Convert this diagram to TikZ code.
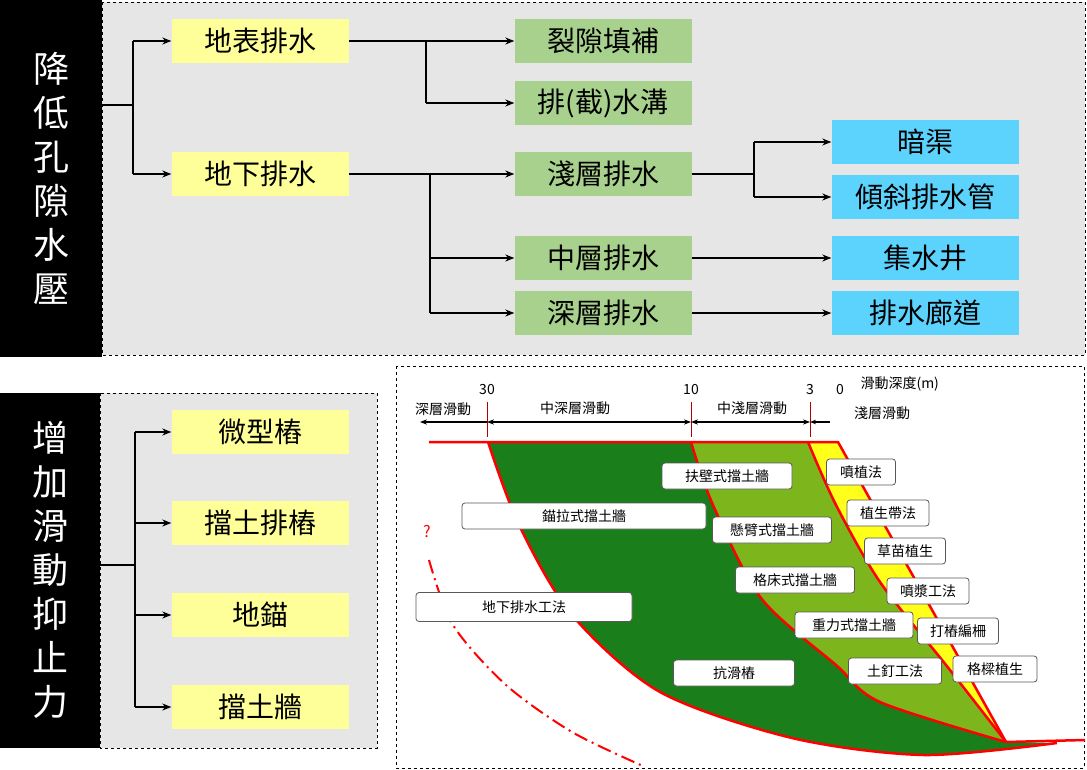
\documentclass[tikz,border=0pt]{standalone}
\usepackage{fontspec}
\setmainfont{Noto Sans CJK TC}
\usetikzlibrary{arrows.meta}
\definecolor{ybox}{HTML}{FFFF9A}
\definecolor{gbox}{HTML}{A9D18E}
\definecolor{bbox}{HTML}{5BD3FD}
\definecolor{panel}{HTML}{E6E6E6}
\definecolor{dg}{HTML}{1A7F1A}
\definecolor{lg}{HTML}{7DB51C}
\definecolor{yl}{HTML}{FFFF1A}
\begin{document}
\begin{tikzpicture}[x=1pt,y=-1pt,
  box/.style={minimum width=177pt,minimum height=44pt,inner sep=0pt,font=\fontsize{28}{32}\selectfont},
  yb/.style={box,fill=ybox},
  gb/.style={box,fill=gbox},
  bb/.style={box,fill=bbox,minimum width=187pt},
  conn/.style={black,line width=1.2pt},
  arr/.style={conn,-{Stealth[length=9pt,width=7pt]}},
  vt/.style={text=white,align=center,font=\fontsize{36}{44}\selectfont},
  lab/.style={draw=gray!70!black,fill=white,rounded corners=3pt,line width=0.8pt,inner sep=0pt,minimum height=26pt,font=\fontsize{14}{16}\selectfont},
  sc/.style={font=\fontsize{14}{16}\selectfont},
  red/.style={draw=red,line width=2.5pt},
  dim/.style={black,line width=1.5pt}]
\useasboundingbox (0,0) rectangle (1087,770);
% panels
\fill[black] (0,0) rectangle (102,357);
\draw[dashed,fill=panel,line width=0.8pt] (102,2) rectangle (1085,355);
\node[vt] (t1) at (51,178) {降\\低\\孔\\隙\\水\\壓};
\fill[black] (0,393) rectangle (100,748);
\draw[dashed,fill=panel,line width=0.8pt] (100,393) rectangle (377,748);
\node[vt] (t2) at (50,570) {增\\加\\滑\\動\\抑\\止\\力};
\draw[dashed,line width=1pt] (396,366) rectangle (1084,768);
% top nodes
\node[yb] (a1) at (260,41) {地表排水};
\node[yb] (a2) at (260,174) {地下排水};
\node[gb] (b1) at (603,41) {裂隙填補};
\node[gb] (b2) at (603,103) {排(截)水溝};
\node[gb] (b3) at (603,174) {淺層排水};
\node[gb] (b4) at (603,258) {中層排水};
\node[gb] (b5) at (603,313) {深層排水};
\node[bb] (c1) at (925,142) {暗渠};
\node[bb] (c2) at (925,197) {傾斜排水管};
\node[bb] (c3) at (925,258) {集水井};
\node[bb] (c4) at (925,313) {排水廊道};
\coordinate (r0) at (102,105);
\draw[conn] (r0) -- (133,105);
\draw[conn] (133,41) -- (133,174);
\draw[arr] (133,41) -- (a1.west);
\draw[arr] (133,174) -- (a2.west);
\draw[conn] (a1.east) -- (426,41);
\draw[conn] (426,41) -- (426,103);
\draw[arr] (426,41) -- (b1.west);
\draw[arr] (426,103) -- (b2.west);
\draw[conn] (a2.east) -- (430,174);
\draw[conn] (430,174) -- (430,313);
\draw[arr] (430,174) -- (b3.west);
\draw[arr] (430,258) -- (b4.west);
\draw[arr] (430,313) -- (b5.west);
\draw[conn] (b3.east) -- (754,174);
\draw[conn] (754,142) -- (754,197);
\draw[arr] (754,142) -- (c1.west);
\draw[arr] (754,197) -- (c2.west);
\draw[arr] (b4.east) -- (c3.west);
\draw[arr] (b5.east) -- (c4.west);
% bottom left
\node[yb] (d1) at (260,432) {微型樁};
\node[yb] (d2) at (260,523) {擋土排樁};
\node[yb] (d3) at (260,615) {地錨};
\node[yb] (d4) at (260,707) {擋土牆};
\coordinate (r1) at (100,565);
\draw[conn] (r1) -- (135,565);
\draw[conn] (135,432) -- (135,707);
\foreach \n/\y in {d1/432,d2/523,d3/615,d4/707} \draw[arr] (135,\y) -- (\n.west);
% slope figure
\fill[dg] plot[smooth] coordinates{(488,442)(519,525)(572,615)(660,692)(792,738)(924,755)(1057,743)} -- (1006,742) -- (838,442) -- cycle;
\fill[lg] plot[smooth] coordinates{(691,442)(713,505)(761,598)(836,665)(880,702)(1006,742)} -- (838,442) -- cycle;
\fill[yl] plot[smooth] coordinates{(808,442)(836,505)(880,582)(946,665)(1006,742)} -- (838,442) -- cycle;
\draw[red] plot[smooth] coordinates{(488,442)(519,525)(572,615)(660,692)(792,738)(924,755)(1057,743)};
\draw[red] plot[smooth] coordinates{(691,442)(713,505)(761,598)(836,665)(880,702)(1006,742)};
\draw[red] plot[smooth] coordinates{(808,442)(836,505)(880,582)(946,665)(1006,742)};
\draw[red,line join=round] (429,442) -- (838,442) -- (1006,742) -- (1085,740);
\draw[red,line width=2pt,dash pattern=on 14pt off 5pt on 2pt off 5pt] plot[smooth] coordinates{(429,560)(453,625)(506,685)(572,732)(643,766)};
\node[text=red,font=\fontsize{16}{18}\selectfont] (q) at (427,532) {?};
% scale
\foreach \x/\t/\nm in {487/30/s1,691/10/s2,810/3/s3,840/0/s4} \node[sc] (\nm) at (\x,390) {\t};
\node[sc,anchor=west] (s5) at (857,384) {滑動深度(m)};
\foreach \x/\nm in {487/k1,691/k2,810/k3} {\coordinate (\nm a) at (\x,402); \coordinate (\nm b) at (\x,437); \draw[red!70!black,line width=0.6pt] (\nm a) -- (\nm b);}
\coordinate (e0) at (420,422); \coordinate (e1) at (487,422); \coordinate (e2) at (691,422); \coordinate (e3) at (810,422); \coordinate (e4) at (830,422);
\draw[dim,-{Stealth[length=7pt]}] (e1) -- (e0);
\draw[dim,{Stealth[length=7pt]}-{Stealth[length=7pt]}] (e1) -- (e2);
\draw[dim,{Stealth[length=7pt]}-{Stealth[length=7pt]}] (e2) -- (e3);
\draw[dim,-{Stealth[length=6pt]}] (e4) -- (e3);
\node[sc] (m1) at (443,409) {深層滑動};
\node[sc] (m2) at (575,408) {中深層滑動};
\node[sc] (m3) at (752,408) {中淺層滑動};
\node[sc] (m4) at (882,413) {淺層滑動};
% labels
\node[lab,minimum width=130pt] (l1) at (727,476) {扶壁式擋土牆};
\node[lab,minimum width=69pt] (l2) at (861,472) {噴植法};
\node[lab,minimum width=244pt] (l3) at (584,516) {錨拉式擋土牆};
\node[lab,minimum width=119pt] (l4) at (772,530) {懸臂式擋土牆};
\node[lab,minimum width=82pt] (l5) at (888,513) {植生帶法};
\node[lab,minimum width=81pt] (l6) at (905,551) {草苗植生};
\node[lab,minimum width=119pt] (l7) at (795,580) {格床式擋土牆};
\node[lab,minimum width=82pt] (l8) at (928,591) {噴漿工法};
\node[lab,minimum width=216pt,minimum height=29pt] (l9) at (524,607) {地下排水工法};
\node[lab,minimum width=118pt] (l10) at (854,625) {重力式擋土牆};
\node[lab,minimum width=81pt] (l11) at (958,631) {打樁編柵};
\node[lab,minimum width=121pt] (l12) at (734,673) {抗滑樁};
\node[lab,minimum width=93pt] (l13) at (895,671) {土釘工法};
\node[lab,minimum width=84pt] (l14) at (995,669) {格樑植生};
\end{tikzpicture}
\end{document}
